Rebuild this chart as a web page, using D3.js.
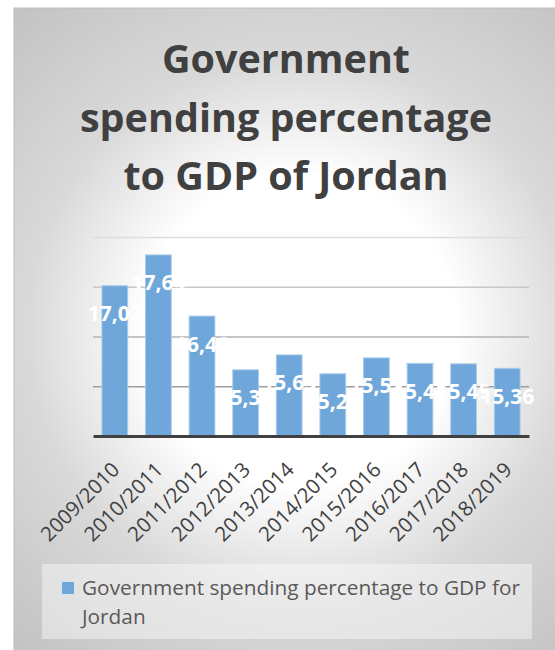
<!DOCTYPE html>
<html>
<head>
<meta charset="utf-8">
<script src="https://cdn.jsdelivr.net/npm/d3@7"></script>
<style>
  html, body { margin: 0; padding: 0; background: #ffffff; }
  svg { display: block; }
</style>
</head>
<body>
<div id="chart"></div>
<script>
// Fiscal years and government spending as % of GDP (Jordan)
const categories = ["2009/2010", "2010/2011", "2011/2012", "2012/2013", "2013/2014",
                    "2014/2015", "2015/2016", "2016/2017", "2017/2018", "2018/2019"];
const spending = [17.02, 17.64, 16.41, 15.33, 15.63, 15.25, 15.57, 15.46, 15.45, 15.36];
const yTicks = [14, 15, 16, 17, 18];
const titleLines = ["Government", "spending percentage", "to GDP of Jordan"];
const legendLines = ["Government spending percentage to GDP for", "Jordan"];

const W = 555, H = 650;
const barColor = "#6fa7da";
const plot = { left: 93, right: 529, top: 237, bottom: 436 };

const svg = d3.select("#chart").append("svg")
  .attr("width", W).attr("height", H);

// soft radial background of the chart area
const defs = svg.append("defs");
const grad = defs.append("radialGradient")
  .attr("id", "bg").attr("gradientUnits", "userSpaceOnUse")
  .attr("cx", 300).attr("cy", 330).attr("r", 420);
[[0, "#ffffff"], [0.37, "#ffffff"], [0.65, "#d9d9d9"], [1, "#c4c4c4"]].forEach(([o, c]) =>
  grad.append("stop").attr("offset", o).attr("stop-color", c));

svg.append("rect")
  .attr("x", 14).attr("y", 8).attr("width", 600).attr("height", 700)
  .attr("fill", "url(#bg)").attr("stroke", "#bdbdbd").attr("stroke-width", 1);

// title
svg.append("g").selectAll("text").data(titleLines).join("text")
  .attr("x", 286).attr("y", (d, i) => 73 + i * 58.5)
  .attr("text-anchor", "middle")
  .attr("font-family", "'Open Sans', sans-serif")
  .attr("font-weight", 700).attr("font-size", 39.5)
  .attr("fill", "#404040")
  .text(d => d);

const x = d3.scaleBand().domain(categories)
  .range([plot.left, plot.right]).paddingInner(0.41).paddingOuter(0.205);
const y = d3.scaleLinear().domain([yTicks[0], yTicks[yTicks.length - 1]])
  .range([plot.bottom, plot.top]);

// horizontal gridlines
const gridShade = d3.scaleLinear().domain([15, 18]).range(["#9e9e9e", "#dddddd"]);
const yAxis = d3.axisLeft(y).tickValues(yTicks.slice(1))
  .tickSize(-(plot.right - plot.left)).tickFormat("");
const gy = svg.append("g").attr("transform", `translate(${plot.left},0)`).call(yAxis);
gy.select(".domain").remove();
gy.selectAll(".tick line").attr("stroke", d => gridShade(d)).attr("stroke-width", 1.3);

// bars
svg.append("g").selectAll("rect").data(spending).join("rect")
  .attr("x", (d, i) => x(categories[i]))
  .attr("width", x.bandwidth())
  .attr("y", d => y(d))
  .attr("height", d => y(yTicks[0]) - y(d))
  .attr("fill", barColor)
  .attr("stroke", "#a9cbea").attr("stroke-width", 1);

// category axis
const xAxis = d3.axisBottom(x).tickSize(0).tickPadding(0);
const gx = svg.append("g").attr("transform", `translate(0,${plot.bottom})`).call(xAxis);
gx.select(".domain").attr("stroke", "#404040").attr("stroke-width", 3);
gx.selectAll(".tick text")
  .attr("font-family", "'Open Sans', sans-serif")
  .attr("font-size", 20.5).attr("fill", "#404040")
  .attr("text-anchor", "end")
  .attr("dy", 0)
  .attr("transform", "translate(6,35) rotate(-45)");

// value labels
const fmt = v => d3.format(".2f")(v).replace(".", ",");
svg.append("g").selectAll("text").data(spending).join("text")
  .attr("x", (d, i) => x(categories[i]) + x.bandwidth() / 2)
  .attr("y", d => y(d) + 28)
  .attr("dy", "0.36em")
  .attr("text-anchor", "middle")
  .attr("font-family", "'Open Sans', sans-serif")
  .attr("font-weight", 700).attr("font-size", 21)
  .attr("fill", "#ffffff")
  .text(d => fmt(d));

// legend
const lg = svg.append("g");
lg.append("rect").attr("x", 42).attr("y", 564).attr("width", 490).attr("height", 75)
  .attr("fill", "#ffffff").attr("fill-opacity", 0.42);
lg.append("rect").attr("x", 62).attr("y", 582).attr("width", 12).attr("height", 12)
  .attr("fill", barColor);
lg.selectAll("text").data(legendLines).join("text")
  .attr("x", 82).attr("y", (d, i) => 595 + i * 29)
  .attr("font-family", "'Open Sans', sans-serif")
  .attr("font-size", 20.8).attr("fill", "#595959")
  .text(d => d);
</script>
</body>
</html>
